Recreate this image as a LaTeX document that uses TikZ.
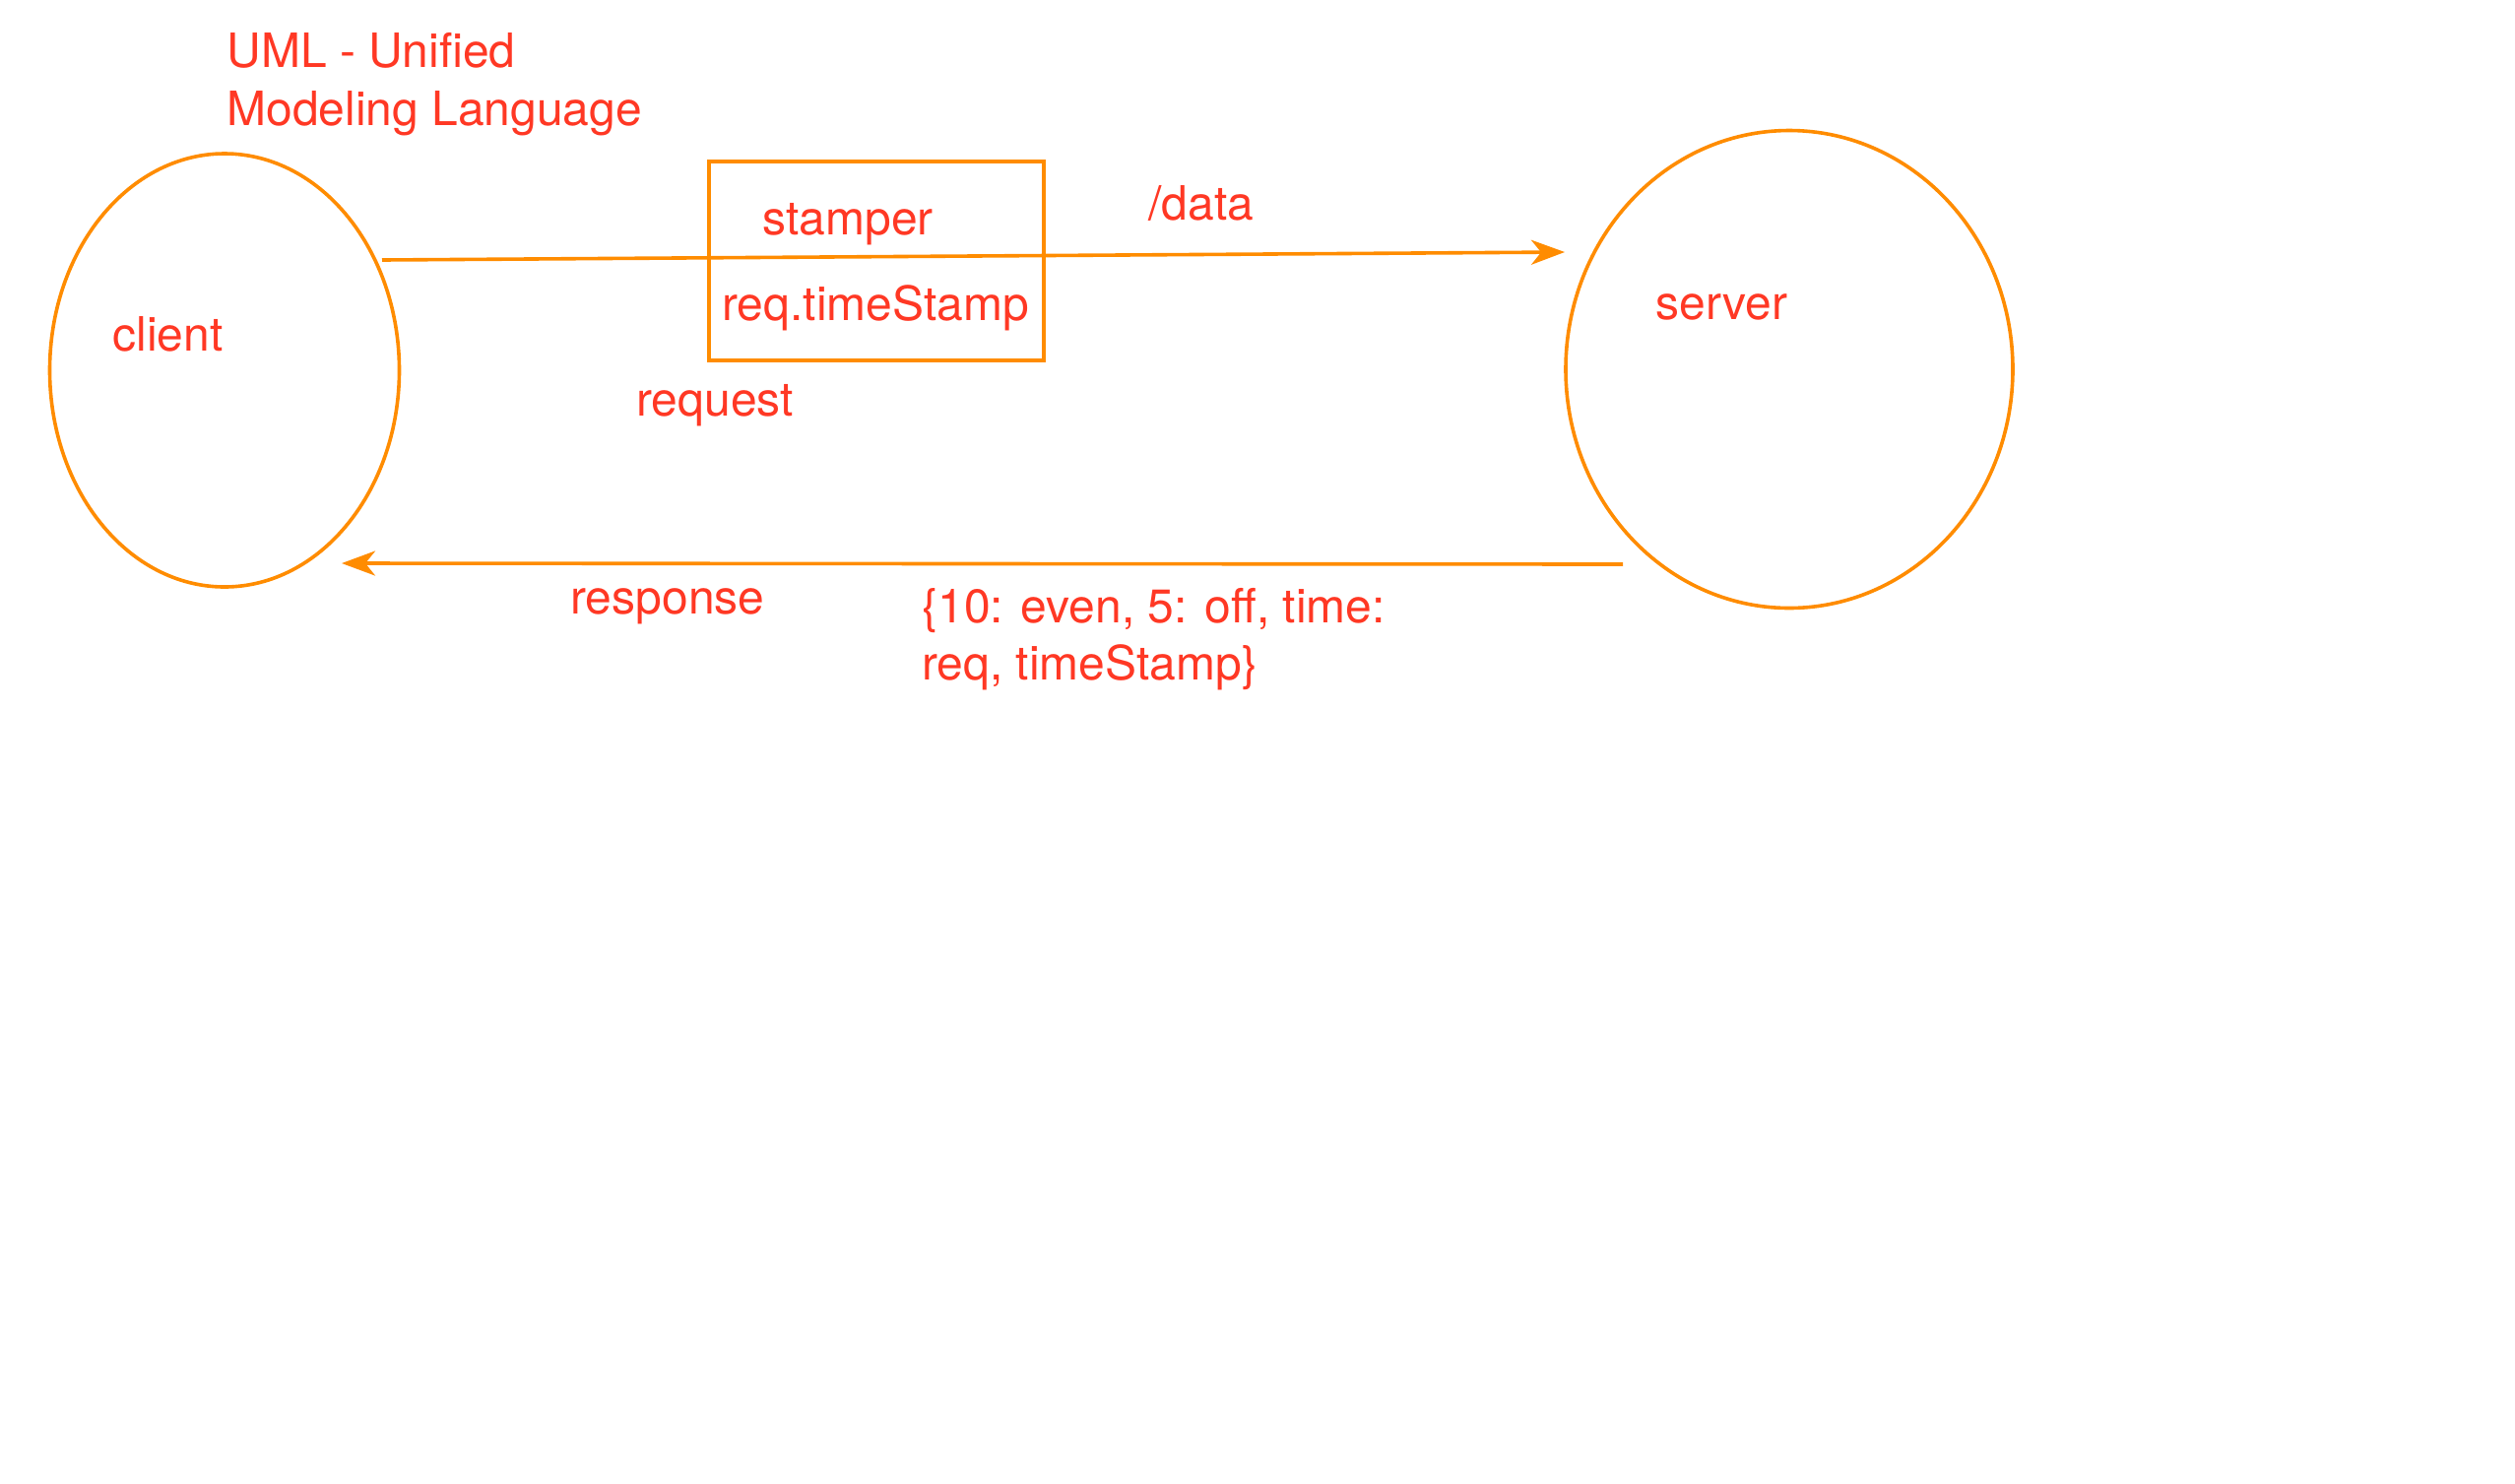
\documentclass[tikz,border=0pt]{standalone}
\usepackage{fontspec}
\setmainfont{TeX Gyre Heros}
\usetikzlibrary{shapes.geometric,arrows.meta}
\definecolor{lineorange}{RGB}{255,140,0}
\definecolor{textred}{RGB}{255,56,36}
\begin{document}
\begin{tikzpicture}[x=0.5pt,y=-0.5pt,
  lbl/.style={text=textred, font=\fontsize{24}{29}\selectfont, inner sep=0pt, anchor=base west},
  shapeline/.style={draw=lineorange, line width=1.8pt},
  conn/.style={draw=lineorange, line width=1.8pt, -{Stealth[length=17pt,width=12.5pt,inset=5pt]}}]
\useasboundingbox (0,0) rectangle (2554,1506);
\fill[white] (0,0) rectangle (2554,1506);
% shapes
\node[shapeline, ellipse, minimum width=177.5pt, minimum height=220pt, inner sep=0pt] (client) at (228,376) {};
\node[shapeline, ellipse, minimum width=227pt, minimum height=242.5pt, inner sep=0pt] (server) at (1817,375) {};
\node[shapeline, rectangle, minimum width=170pt, minimum height=101pt, inner sep=0pt] (stamperbox) at (890,265) {};
% labels
\node[lbl] (uml1) at (230,68) {UML - Unified};
\node[lbl] (uml2) at (230,127) {Modeling Language};
\node[lbl] (clientlbl) at (114,356) {client};
\node[lbl] (serverlbl) at (1681,324) {server};
\node[lbl] (stamperlbl) at (774,238) {stamper};
\node[lbl] (tslbl) at (733,325) {req.timeStamp};
\node[lbl] (datalbl) at (1166,223) {/data};
\node[lbl] (reqlbl) at (646,422) {request};
\node[lbl] (reslbl) at (579,623) {response};
\node[lbl] (payload1) at (936,632) {\{10: even, 5: off, time:};
\node[lbl] (payload2) at (936,690) {req, timeStamp\}};
% connectors
\coordinate (reqstart) at (388,264);
\coordinate (reqend) at (1589,256);
\coordinate (resstart) at (1648,573);
\coordinate (resend) at (347,572);
\draw[conn] (reqstart) -- (reqend);
\draw[conn] (resstart) -- (resend);
\end{tikzpicture}
\end{document}
